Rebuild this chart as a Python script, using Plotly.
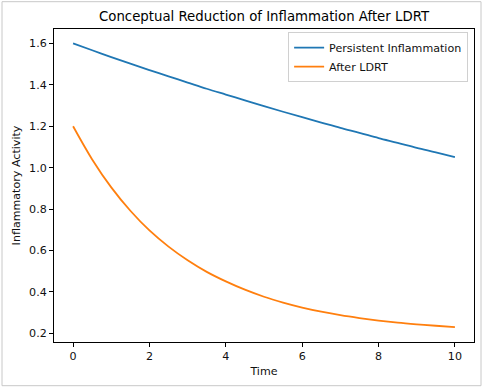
import plotly.graph_objects as go

time = [0, 0.5, 1, 1.5, 2, 2.5, 3, 3.5, 4, 4.5, 5, 5.5, 6, 6.5, 7, 7.5, 8, 8.5, 9, 9.5, 10]
persistent = [1.600, 1.567, 1.534, 1.502, 1.471, 1.441, 1.411, 1.381, 1.353, 1.325, 1.297,
              1.270, 1.244, 1.218, 1.192, 1.168, 1.143, 1.120, 1.096, 1.074, 1.051]
after_ldrt = [1.200, 1.040, 0.905, 0.792, 0.697, 0.619, 0.553, 0.497, 0.451, 0.411, 0.377,
              0.349, 0.325, 0.305, 0.288, 0.274, 0.262, 0.252, 0.244, 0.237, 0.230]

FS = 11.1

fig = go.Figure()
fig.add_trace(go.Scatter(x=time, y=persistent, mode="lines", name="Persistent Inflammation",
                         line=dict(color="#1f77b4", width=1.8), line_shape="spline"))
fig.add_trace(go.Scatter(x=time, y=after_ldrt, mode="lines", name="After LDRT",
                         line=dict(color="#ff7f0e", width=1.8), line_shape="spline"))

axis_common = dict(showgrid=False, zeroline=False, showline=True, linecolor="black", linewidth=1,
                   mirror=True, ticks="outside", ticklen=4, tickcolor="black", automargin=False,
                   tickfont=dict(family="DejaVu Sans", size=FS, color="#111"))

fig.update_layout(
    width=484, height=389,
    margin=dict(l=54, r=10, t=29, b=47),
    paper_bgcolor="white", plot_bgcolor="white",
    font=dict(family="DejaVu Sans", size=FS, color="#111"),
    title=dict(text="Conceptual Reduction of Inflammation After LDRT",
               font=dict(family="DejaVu Sans", size=13.3, color="black"),
               x=(54 + 420 / 2) / 484, xanchor="center", y=1 - 16.5 / 389, yanchor="middle"),
    xaxis=dict(range=[-0.5, 10.5], tickvals=[0, 2, 4, 6, 8, 10],
               title=dict(text="Time", font=dict(size=FS), standoff=4), **axis_common),
    yaxis=dict(range=[0.1585, 1.6695], tickvals=[0.2, 0.4, 0.6, 0.8, 1.0, 1.2, 1.4, 1.6],
               tickformat=".1f",
               title=dict(text="Inflammatory Activity", font=dict(size=FS), standoff=6), **axis_common),
    legend=dict(x=0.986, y=0.99, xanchor="right", yanchor="top", bgcolor="rgba(255,255,255,0.8)",
                bordercolor="#d0d0d0", borderwidth=1, font=dict(size=FS, family="DejaVu Sans"),
                tracegroupgap=0, itemwidth=30),
    showlegend=True,
)

fig.add_shape(type="rect", xref="paper", yref="paper",
              x0=(2 - 54) / 420, x1=(481 - 54) / 420,
              y0=(342.3 - 386) / 313, y1=(342.3 - 2) / 313,
              line=dict(color="#c8c8c8", width=1), fillcolor="rgba(0,0,0,0)", layer="below")

fig.write_html("out.html", config={"displayModeBar": False},
               post_script="document.body.style.margin='0px';document.body.style.overflow='hidden';")
